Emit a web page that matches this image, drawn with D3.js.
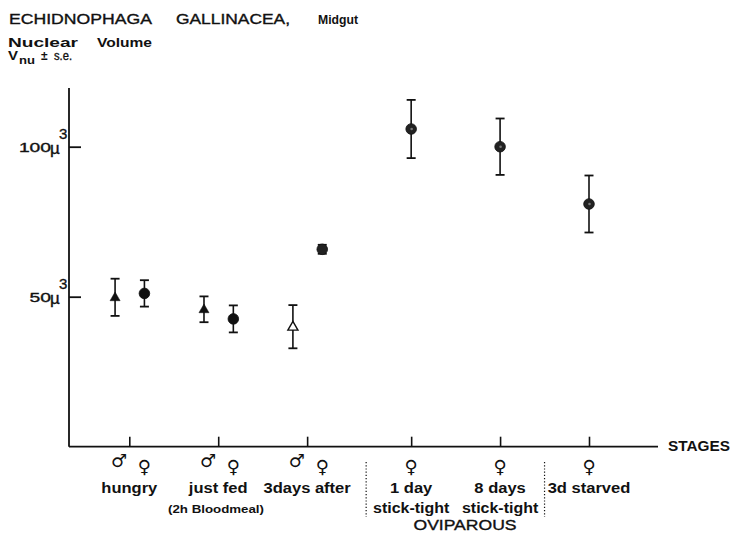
<!DOCTYPE html>
<html>
<head>
<meta charset="utf-8">
<script src="https://cdn.jsdelivr.net/npm/d3@7.9.0/dist/d3.min.js"></script>
<style>
  body { margin: 0; background: #fff; }
  svg { display: block; font-family: "Liberation Sans", Arial, sans-serif; }
  text { fill: #111; }
  .thick { stroke: #111; stroke-width: 0.35px; }
</style>
</head>
<body>
<svg id="chart" width="732" height="536"></svg>
<script>
// data (nuclear volume, cubic micron)
const stages = ["hungry", "just fed", "3days after", "1 day", "8 days", "3d starved"];
const stageLine2 = ["", "", "", "stick-tight", "stick-tight", ""];
const maleMean = [49.8, 45.8, 40.0, null, null, null];
const maleSE = [6.2, 4.3, 7.2, null, null, null];
const maleOpen = [false, false, true, false, false, false];
const femaleMean = [51.1, 42.6, 65.8, 105.9, 100.0, 80.9];
const femaleSE = [4.4, 4.5, 1.5, 9.7, 9.4, 9.5];
const yTicks = [50, 100];

const svg = d3.select("#chart");
const ink = "#111";

// the oviparous group sits a bit further right than the even spacing
const slot = i => i + (i >= 3 ? 0.17 : 0);
const x = d3.scaleLinear().domain([0, slot(5)]).range([129.3, 589]);
const y = d3.scaleLinear().domain([0, 120]).range([446.7, 86.7]);
const axisLeftX = 69, axisRightX = 658;

// stretch a text to a given width (the old lettering is wide)
function fit(sel, w) {
  sel.attr("textLength", w).attr("lengthAdjust", "spacingAndGlyphs");
  return sel;
}
function fitBy(sel, k) {
  sel.each(function () {
    const w = this.getComputedTextLength();
    d3.select(this).attr("textLength", w * k).attr("lengthAdjust", "spacingAndGlyphs");
  });
  return sel;
}

// headers
const head = svg.append("g");
fit(head.append("text").attr("class", "thick").attr("x", 9).attr("y", 24).attr("font-size", 14).text("ECHIDNOPHAGA"), 143);
fit(head.append("text").attr("class", "thick").attr("x", 176).attr("y", 24).attr("font-size", 14).text("GALLINACEA,"), 114);
fit(head.append("text").attr("x", 318).attr("y", 24).attr("font-size", 13).attr("font-weight", "bold").text("Midgut"), 40);
fit(head.append("text").attr("x", 8).attr("y", 46.5).attr("font-size", 12).attr("font-weight", "bold").text("Nuclear"), 70);
fit(head.append("text").attr("x", 97).attr("y", 46.5).attr("font-size", 12).attr("font-weight", "bold").text("Volume"), 55);
fit(head.append("text").attr("x", 8).attr("y", 60).attr("font-size", 12).attr("font-weight", "bold").text("V"), 10);
fit(head.append("text").attr("x", 19).attr("y", 64).attr("font-size", 11).attr("font-weight", "bold").text("nu"), 16);
head.append("text").attr("x", 41).attr("y", 60).attr("font-size", 12).attr("font-weight", "bold").text("±");
fit(head.append("text").attr("x", 54).attr("y", 59.5).attr("font-size", 12).attr("class", "thick").text("s.e."), 18);

// axes
const yAxis = d3.axisLeft(y).tickValues(yTicks).tickSizeInner(-12).tickSizeOuter(0).tickFormat("");
const gy = svg.append("g").attr("transform", `translate(${axisLeftX},0)`).call(yAxis);
gy.select(".domain").remove();
gy.selectAll(".tick line").attr("stroke", ink).attr("stroke-width", 1.8);

const xAxis = d3.axisBottom(x).tickValues(stages.map((d, i) => slot(i))).tickSizeInner(-10).tickSizeOuter(0).tickFormat("");
const gx = svg.append("g").attr("transform", `translate(0,${y(0)})`).call(xAxis);
gx.select(".domain").remove();
gx.selectAll(".tick line").attr("stroke", ink).attr("stroke-width", 1.6);

svg.append("line").attr("x1", axisLeftX).attr("x2", axisLeftX).attr("y1", y(119.6)).attr("y2", y(0))
  .attr("stroke", ink).attr("stroke-width", 1.8);
svg.append("line").attr("x1", axisLeftX).attr("x2", axisRightX).attr("y1", y(0)).attr("y2", y(0))
  .attr("stroke", ink).attr("stroke-width", 1.8);

// y tick labels: 50µ³, 100µ³
const yl = svg.append("g").selectAll("g").data(yTicks).join("g")
  .attr("transform", d => `translate(0,${y(d)})`);
yl.each(function (d) {
  const g = d3.select(this);
  const t = g.append("text").attr("class", "thick").attr("x", 51).attr("y", 5.5)
    .attr("text-anchor", "end").attr("font-size", 13).text(d);
  fit(t, String(d).length * 10.7);
  g.append("text").attr("class", "thick").attr("x", 50).attr("y", 7).attr("font-size", 17).text("µ");
  g.append("text").attr("class", "thick").attr("x", 59).attr("y", -7.5).attr("font-size", 15).text("3");
});

svg.append("text").attr("x", 668).attr("y", 451).attr("font-size", 15).attr("font-weight", "bold")
  .call(t => fit(t, 62)).text("STAGES");

// points
const xm = i => x(slot(i) - 0.16);
const xf = i => x(slot(i) + (maleMean[i] == null ? 0 : 0.17));

function errorBar(g, cx, m, se) {
  g.append("line").attr("x1", cx).attr("x2", cx).attr("y1", y(m + se)).attr("y2", y(m - se))
    .attr("stroke", ink).attr("stroke-width", 1.6);
  [m + se, m - se].forEach(v => g.append("line")
    .attr("x1", cx - 4.5).attr("x2", cx + 4.5).attr("y1", y(v)).attr("y2", y(v))
    .attr("stroke", ink).attr("stroke-width", 1.8));
}

const marks = svg.append("g");
const tri = d3.symbol().type(d3.symbolTriangle).size(44);
stages.forEach((s, i) => {
  if (maleMean[i] != null) {
    errorBar(marks, xm(i), maleMean[i], maleSE[i]);
    marks.append("path").attr("d", tri)
      .attr("transform", `translate(${xm(i)},${y(maleMean[i]) + 0.5})`)
      .attr("fill", maleOpen[i] ? "#fff" : ink)
      .attr("stroke", ink).attr("stroke-width", maleOpen[i] ? 1.4 : 0.5);
  }
  errorBar(marks, xf(i), femaleMean[i], femaleSE[i]);
  marks.append("circle").attr("cx", xf(i)).attr("cy", y(femaleMean[i])).attr("r", 5.3)
    .attr("fill", i >= 2 ? "#222" : ink).attr("stroke", ink).attr("stroke-width", 0.8);
  if (i >= 3) {
    marks.append("circle").attr("cx", xf(i) + 0.5).attr("cy", y(femaleMean[i])).attr("r", 1.3).attr("fill", "#777");
  }
});

// sex symbols and stage labels
const lab = svg.append("g");
stages.forEach((s, i) => {
  if (maleMean[i] != null) {
    lab.append("text").attr("x", xm(i) + 4).attr("y", 467).attr("text-anchor", "middle")
      .attr("font-family", "DejaVu Sans").attr("font-weight", "bold").attr("font-size", 18).text("♂");
  }
  lab.append("text").attr("x", xf(i)).attr("y", 473).attr("text-anchor", "middle")
    .attr("font-family", "DejaVu Sans").attr("font-weight", "bold").attr("font-size", 18).text("♀");
  const cx = x(slot(i));
  fitBy(lab.append("text").attr("x", cx).attr("y", 493).attr("text-anchor", "middle")
    .attr("font-size", 14).attr("font-weight", "bold").text(s), 1.18);
  if (stageLine2[i]) {
    fitBy(lab.append("text").attr("x", cx).attr("y", 513).attr("text-anchor", "middle")
      .attr("font-size", 14).attr("font-weight", "bold").text(stageLine2[i]), 1.14);
  }
});
fit(lab.append("text").attr("x", 216).attr("y", 513).attr("text-anchor", "middle")
  .attr("font-size", 10).attr("font-weight", "bold").text("(2h Bloodmeal)"), 96);
fit(lab.append("text").attr("class", "thick").attr("x", 465).attr("y", 530).attr("text-anchor", "middle")
  .attr("font-size", 14).text("OVIPAROUS"), 103);

// dotted separators of the oviparous group
[(x(slot(2)) + x(slot(3))) / 2 + 7, (x(slot(4)) + x(slot(5))) / 2].forEach(sx => {
  svg.append("line").attr("x1", sx).attr("x2", sx).attr("y1", 462).attr("y2", 517)
    .attr("stroke", ink).attr("stroke-width", 1.2).attr("stroke-dasharray", "1.2,2");
});
</script>
</body>
</html>
